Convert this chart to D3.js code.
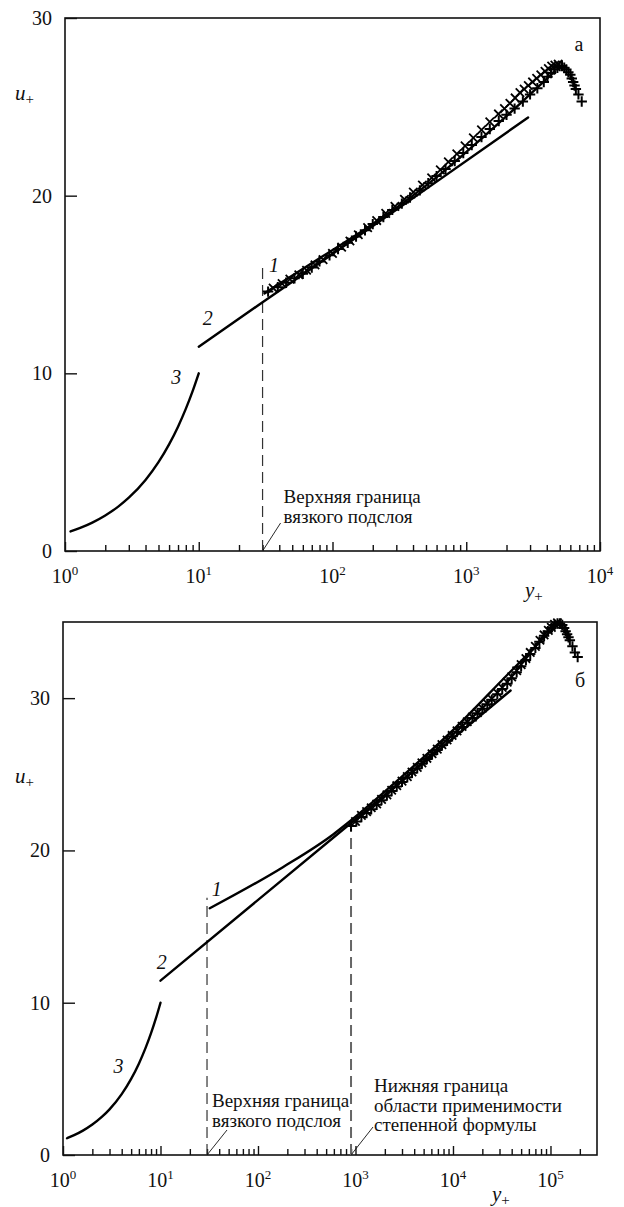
<!DOCTYPE html>
<html>
<head>
<meta charset="utf-8">
<script src="https://cdn.jsdelivr.net/npm/d3@7"></script>
<style>
  body { margin: 0; background: #fff; }
  svg text { font-family: "Liberation Serif", "Times New Roman", serif; fill: #111; }
</style>
</head>
<body>
<div id="chart"></div>
<script>
// ---- panel "а" (top) ----
const topDecades = [0, 1, 2, 3, 4];
const topYTicks = [0, 10, 20, 30];
// curve 3: viscous sublayer
const topViscous = [[1.1, 1.1], [1.3, 1.3], [1.6, 1.6], [2, 2], [2.5, 2.5], [3, 3], [4, 4], [5, 5], [6, 6], [7, 7], [8, 8], [9, 9], [10, 10]];
// curve 2: log law
const topLogLaw = [[10, 11.5], [30, 14.0], [300, 19.2], [2900, 24.4]];
// curve 1: power law
const topPowerLaw = [[31, 14.5], [85, 16.6], [240, 18.8], [570, 20.9], [1340, 23.3], [2380, 25.0], [4600, 27.0]];
const topPlus = [[33, 14.6], [39, 14.85], [45, 15.1], [52, 15.35], [60, 15.6], [70, 15.95], [80, 16.3], [95, 16.65],
  [110, 17.0], [130, 17.35], [150, 17.7], [175, 18.05], [200, 18.4], [240, 18.8], [280, 19.2], [330, 19.55],
  [380, 19.9], [450, 20.3], [520, 20.7], [600, 21.1], [700, 21.5], [820, 21.95], [950, 22.4], [1100, 22.85],
  [1300, 23.3], [1500, 23.75], [1750, 24.2], [2000, 24.55], [2300, 24.9], [2650, 25.3], [3000, 25.7], [3400, 26.05],
  [3800, 26.4], [4050, 26.7], [4300, 26.9], [4550, 27.1], [4800, 27.2], [5000, 27.3], [5200, 27.3], [5400, 27.2],
  [5600, 27.1], [5800, 26.95], [6000, 26.8], [6150, 26.6], [6300, 26.4], [6450, 26.2], [6600, 26.0],
  [6900, 25.7], [7300, 25.3]];
const topCross = [[36, 14.8], [42, 15.05], [48, 15.3], [56, 15.55], [64, 15.8], [74, 16.1], [85, 16.4], [100, 16.75],
  [117, 17.1], [135, 17.45], [156, 17.8], [183, 18.2], [214, 18.6], [250, 19.0], [293, 19.4], [345, 19.8],
  [402, 20.2], [470, 20.6], [551, 21.0], [640, 21.45], [735, 21.9], [850, 22.35], [980, 22.8], [1130, 23.25],
  [1300, 23.7], [1500, 24.15], [1740, 24.6], [1930, 24.9], [2120, 25.2], [2320, 25.5], [2520, 25.8], [2710, 26.0],
  [2910, 26.2], [3130, 26.4], [3360, 26.6], [3610, 26.8], [3880, 27.0], [4110, 27.15], [4350, 27.3], [4600, 27.35],
  [4870, 27.4]];
const topBounds = [[30, 16.0]];

// ---- panel "б" (bottom) ----
const botDecades = [0, 1, 2, 3, 4, 5];
const botYTicks = [0, 10, 20, 30];
const botViscous = [[1.1, 1.1], [1.3, 1.3], [1.6, 1.6], [2, 2], [2.5, 2.5], [3, 3], [4, 4], [5, 5], [6, 6], [7, 7], [8, 8], [9, 9], [10, 10]];
const botLogLaw = [[10, 11.45], [900, 21.8], [39000, 30.5]];
const botPowerLaw = [[32, 16.2], [180, 18.9], [590, 21.05], [870, 21.9], [2700, 24.6], [10000, 27.9], [37000, 31.6], [120000, 34.9]];
const botPlus = [[900, 21.6], [1020, 21.9], [1150, 22.2], [1300, 22.45], [1450, 22.7], [1650, 23.0], [1850, 23.3],
  [2100, 23.6], [2350, 23.9], [2650, 24.2], [3000, 24.5], [3400, 24.8], [3800, 25.1], [4300, 25.4], [4800, 25.7],
  [5400, 26.0], [6100, 26.3], [6900, 26.6], [7700, 26.9], [8700, 27.2], [9800, 27.5], [11000, 27.8], [12400, 28.1],
  [14000, 28.4], [15800, 28.7], [17800, 29.0], [20000, 29.3], [22500, 29.6], [25000, 29.9], [28500, 30.25],
  [32000, 30.6], [36000, 30.95], [40000, 31.3], [45000, 31.7], [50000, 32.1], [56000, 32.5], [62000, 32.9],
  [70000, 33.3], [77000, 33.7], [86000, 34.1], [94000, 34.4], [102000, 34.6], [110000, 34.8], [118000, 34.9],
  [125000, 34.9], [132000, 34.8], [138000, 34.6], [143000, 34.4], [148000, 34.2], [153000, 34.0], [158000, 33.8],
  [168000, 33.4], [178000, 33.0], [190000, 32.7]];
const botCross = [[1000, 21.9], [1150, 22.3], [1300, 22.55], [1450, 22.8], [1650, 23.05], [1850, 23.35], [2100, 23.65],
  [2350, 23.95], [2650, 24.25], [3000, 24.55], [3400, 24.85], [3800, 25.15], [4300, 25.45], [4800, 25.75],
  [5400, 26.05], [6100, 26.35], [6900, 26.65], [7700, 26.95], [8700, 27.25], [9800, 27.55], [11000, 27.85],
  [12400, 28.15], [14000, 28.45], [15800, 28.75], [17800, 29.05], [20000, 29.35], [22500, 29.65], [25000, 29.95],
  [28500, 30.35], [32000, 30.7], [36000, 31.05], [40000, 31.4], [45000, 31.8], [50000, 32.2], [56000, 32.6],
  [62000, 33.0], [70000, 33.4], [78000, 33.8], [86000, 34.15], [95000, 34.45], [102000, 34.65], [110000, 34.85],
  [118000, 34.95]];
const botBounds = [[30, 16.9], [900, 21.6]];

const W = 624, H = 1207;
const svg = d3.select("#chart").append("svg").attr("width", W).attr("height", H);

const panels = [
  {
    left: 65, right: 600, top: 18, bottom: 551,
    xDomain: [1, 1e4], yDomain: [0, 30],
    decades: topDecades, yTicks: topYTicks,
    curves: [topViscous, topLogLaw, topPowerLaw],
    plus: topPlus, cross: topCross, bounds: topBounds,
    boundStyle: [{ color: "#333", width: 1.2 }],
    curveLabels: [["1", 36.5, 15.7], ["2", 11.7, 12.7], ["3", 6.8, 9.4]],
    letter: ["а", 579, 51],
    uLabel: [15, 100], yLabel: [525, 597],
    notes: [
      { at: 30, dx: 21, dy: -48, lead: [18, -28], lines: ["Верхняя граница", "вязкого подслоя"] }
    ]
  },
  {
    left: 63, right: 597, top: 622, bottom: 1155,
    xDomain: [1, 3e5], yDomain: [0, 35],
    decades: botDecades, yTicks: botYTicks,
    curves: [botViscous, botLogLaw, botPowerLaw],
    plus: botPlus, cross: botCross, bounds: botBounds,
    boundStyle: [{ color: "#333", width: 1.2 }, { color: "#666", width: 2 }],
    curveLabels: [["1", 37.7, 17.0], ["2", 10.3, 12.2], ["3", 3.7, 5.4]],
    letter: ["б", 580, 687],
    uLabel: [15, 783], yLabel: [492, 1201],
    notes: [
      { at: 30, dx: 5, dy: -48, lead: [20, -25], lines: ["Верхняя граница", "вязкого подслоя"] },
      { at: 900, dx: 23, dy: -63, lead: [22, -28], lines: ["Нижняя граница", "области применимости", "степенной формулы"] }
    ]
  }
];

panels.forEach(p => drawPanel(p));

function drawPanel(p) {
  const x = d3.scaleLog().domain(p.xDomain).range([p.left, p.right]);
  const y = d3.scaleLinear().domain(p.yDomain).range([p.bottom, p.top]);
  const g = svg.append("g");

  // minor + major ticks on the x axis, pointing inward
  const minor = [];
  p.decades.forEach(d => {
    for (let k = 2; k < 10; k++) {
      const v = k * Math.pow(10, d);
      if (v < p.xDomain[1]) minor.push(v);
    }
  });
  g.append("g")
    .attr("transform", `translate(0,${p.bottom})`)
    .call(d3.axisBottom(x).tickValues(minor).tickSize(-6).tickFormat(""))
    .call(a => a.select(".domain").remove());
  g.append("g")
    .attr("transform", `translate(0,${p.bottom})`)
    .call(d3.axisBottom(x).tickValues(p.decades.map(d => Math.pow(10, d))).tickSize(-9).tickFormat(""))
    .call(a => a.select(".domain").remove());

  g.append("g")
    .attr("transform", `translate(${p.left},0)`)
    .call(d3.axisLeft(y).tickValues(p.yTicks).tickSize(-12).tickPadding(13))
    .call(a => a.select(".domain").remove())
    .attr("font-size", 20)
    .attr("font-family", null);

  g.selectAll(".tick line").attr("stroke", "#111").attr("stroke-width", 1.4);

  // frame
  g.append("rect")
    .attr("x", p.left).attr("y", p.top)
    .attr("width", p.right - p.left).attr("height", p.bottom - p.top)
    .attr("fill", "none").attr("stroke", "#111").attr("stroke-width", 1.6);

  // decade labels 10^n
  p.decades.forEach(d => {
    const t = g.append("text")
      .attr("x", x(Math.pow(10, d)))
      .attr("y", p.bottom + 32)
      .attr("text-anchor", "middle")
      .attr("font-size", 20);
    t.append("tspan").text("10");
    t.append("tspan").attr("dy", -8).attr("font-size", 13).text(d);
  });

  // dashed boundaries
  p.bounds.forEach((b, i) => {
    const st = p.boundStyle[i];
    g.append("line")
      .attr("x1", x(b[0])).attr("x2", x(b[0]))
      .attr("y1", y(0)).attr("y2", y(b[1]))
      .attr("stroke", st.color).attr("stroke-width", st.width)
      .attr("stroke-dasharray", "11,6");
  });

  // curves 1-3
  const line = d3.line()
    .x(d => x(d[0]))
    .y(d => y(d[1]))
    .curve(d3.curveMonotoneX);
  p.curves.forEach(c => {
    g.append("path")
      .datum(c)
      .attr("d", line)
      .attr("fill", "none")
      .attr("stroke", "#000")
      .attr("stroke-width", 2.4)
      .attr("stroke-linecap", "round");
  });

  // markers
  const s = 4.2;
  g.append("g").selectAll("path")
    .data(p.cross)
    .join("path")
    .attr("transform", d => `translate(${x(d[0])},${y(d[1])})`)
    .attr("d", `M${-s},${-s}L${s},${s}M${-s},${s}L${s},${-s}`)
    .attr("stroke", "#000").attr("stroke-width", 1.8).attr("fill", "none");
  g.append("g").selectAll("path")
    .data(p.plus)
    .join("path")
    .attr("transform", d => `translate(${x(d[0])},${y(d[1])})`)
    .attr("d", `M${-s - 1},0H${s + 1}M0,${-s - 1}V${s + 1}`)
    .attr("stroke", "#000").attr("stroke-width", 2).attr("fill", "none");

  // curve numbers
  p.curveLabels.forEach(c => {
    g.append("text")
      .attr("x", x(c[1])).attr("y", y(c[2]))
      .attr("text-anchor", "middle")
      .attr("font-size", 20)
      .attr("font-style", "italic")
      .text(c[0]);
  });

  // panel letter
  g.append("text")
    .attr("x", p.letter[1]).attr("y", p.letter[2])
    .attr("text-anchor", "middle")
    .attr("font-size", 20)
    .text(p.letter[0]);

  // axis names
  const u = g.append("text").attr("x", p.uLabel[0]).attr("y", p.uLabel[1]).attr("font-size", 21);
  u.append("tspan").attr("font-style", "italic").text("u");
  u.append("tspan").attr("dy", 4).attr("font-size", 15).text("+");
  const yl = g.append("text").attr("x", p.yLabel[0]).attr("y", p.yLabel[1]).attr("font-size", 21);
  yl.append("tspan").attr("font-style", "italic").text("y");
  yl.append("tspan").attr("dy", 4).attr("font-size", 15).text("+");

  // annotations with leader lines
  p.notes.forEach(n => {
    const x0 = x(n.at), y0 = y(0);
    g.append("line")
      .attr("x1", x0).attr("y1", y0)
      .attr("x2", x0 + n.lead[0]).attr("y2", y0 + n.lead[1])
      .attr("stroke", "#111").attr("stroke-width", 0.9);
    n.lines.forEach((txt, i) => {
      g.append("text")
        .attr("x", x0 + n.dx)
        .attr("y", y0 + n.dy + i * 19.5)
        .attr("font-size", 19)
        .text(txt);
    });
  });
}
</script>
</body>
</html>
